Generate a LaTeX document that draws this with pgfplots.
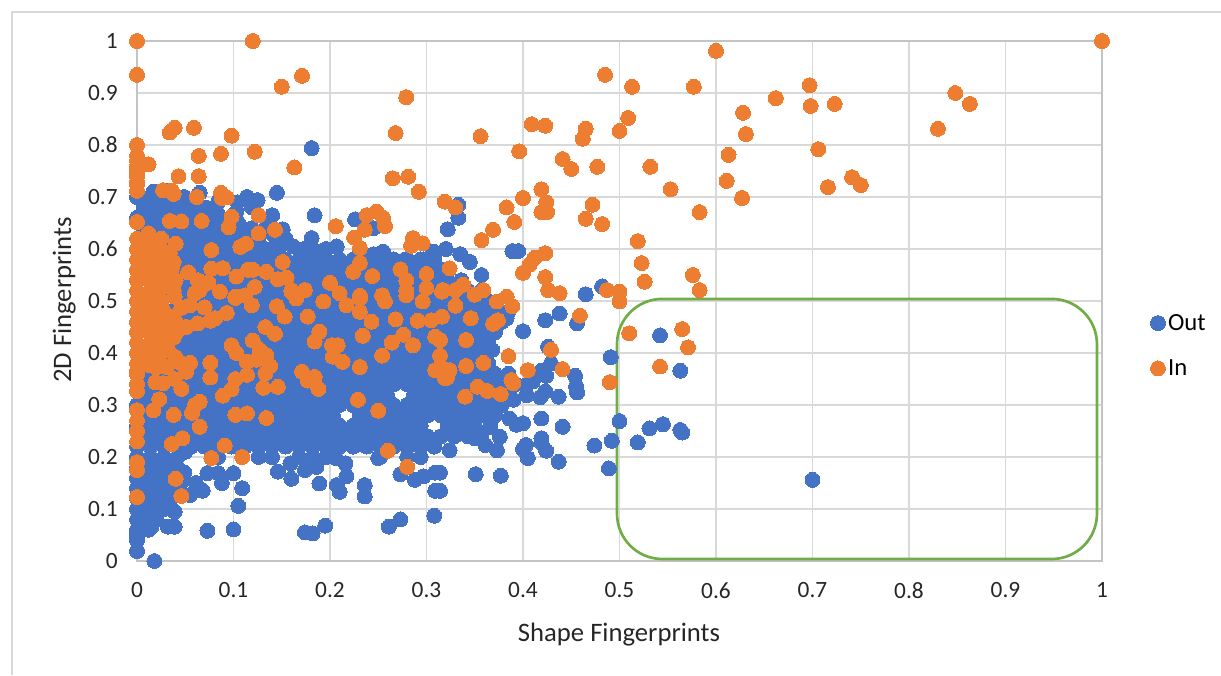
\documentclass[border=0pt]{standalone}
\usepackage{pgfplots}
\pgfplotsset{compat=1.18}
\usepackage{fontspec}
\setmainfont{Carlito}
\definecolor{bl}{HTML}{4472C4}
\definecolor{og}{HTML}{ED7D31}
\definecolor{gn}{HTML}{70AD47}
\definecolor{gr}{HTML}{D9D9D9}
\definecolor{ax}{HTML}{C4C4C4}
\begin{document}
\begin{tikzpicture}
\useasboundingbox (0,0) rectangle (915.75pt,506.25pt);
\draw[gr,line width=0.9pt] (9pt,0)--(9pt,497.25pt)--(915.75pt,497.25pt);
\begin{axis}[
 at={(102.75pt,85.5pt)},anchor=south west,scale only axis,width=723.75pt,height=390pt,
 xmin=0,xmax=1,ymin=0,ymax=1,clip=false,
 xtick={0,0.1,0.2,0.3,0.4,0.5,0.6,0.7,0.8,0.9,1},
 ytick={0,0.1,0.2,0.3,0.4,0.5,0.6,0.7,0.8,0.9,1},
 xticklabels={0,0.1,0.2,0.3,0.4,0.5,0.6,0.7,0.8,0.9,1},
 yticklabels={0,0.1,0.2,0.3,0.4,0.5,0.6,0.7,0.8,0.9,1},
 tick style={draw=none},major tick length=0pt,
 grid=major,grid style={gr,line width=1.3pt},axis line style={ax,line width=1.3pt},
 tick label style={font=\fontsize{17.5}{20}\selectfont,text=black!85},
 xticklabel style={yshift=-12.7pt},yticklabel style={xshift=-11pt},
 xlabel={Shape Fingerprints},ylabel={2D Fingerprints},
 label style={font=\fontsize{20}{23}\selectfont,text=black!85},
 xlabel style={at={(axis description cs:0.4995,-0.142)},anchor=center},
 ylabel style={at={(axis description cs:-0.0755,0.502)},anchor=center},
 legend style={at={(1.05,0.414)},anchor=west,draw=none,fill=none,font=\fontsize{18.5}{20}\selectfont,row sep=16.5pt,inner sep=0pt},
 legend cell align=left,
]
\addplot[only marks,mark=*,mark size=5.6pt,color=bl,mark options={fill=bl,draw=bl,line width=0pt}] coordinates {
(0,.04)(0,.05)(0,.06)(.012,.06)(0,.08)(.014,.08)(.02,.08)(0,.10)(.014,.10)(.028,.10)(0,.12)(.014,.12)(.028,.12)(0,.14)(.014,.14)(.028,.14)(0,.16)(.014,.16)(.028,.16)(0,.18)(.014,.18)(.028,.18)(.042,.18)
(.021,.62)(.035,.62)(.084,.62)(.112,.62)(.14,.63)(.077,.64)(.105,.65)(.084,.655)(.084,.69)(.049,.70)(.06,.685)(.091,.60)(.133,.60)(.147,.60)(.005,.60)(.014,.60)
(.014,.07)(.007,.09)(.021,.10)(.021,.12)(.035,.12)(.021,.14)(.007,.15)(.021,.16)(.035,.15)(.035,.17)(.049,.17)(.021,.18)(.035,.19)(.05,.21)(.007,.13)(.007,.11)
(0,.019)(.018,0)(.015,.066)(.032,.066)(.039,.066)(.039,.095)(.073,.058)(.10,.061)(.105,.106)(.109,.14)(.10,.169)(.174,.055)(.182,.053)(.195,.068)(.261,.066)(.273,.08)(.308,.087)(.309,.135)(.309,.17)(.297,.163)(.288,.156)(.273,.167)(.236,.146)(.236,.124)(.21,.133)(.207,.146)(.217,.163)(.216,.188)(.206,.198)(.189,.149)(.16,.158)(.146,.172)(.174,.175)(.186,.181)(.159,.188)(.088,.15)(.084,.169)(.073,.169)(.068,.135)(.061,.15)(.055,.127)(.25,.198)(.046,.152)(.035,.135)(.016,.125)(.314,.17)(.314,.135)
(.70,.156)(.181,.794)(.145,.708)(.114,.70)(.125,.694)(.104,.69)(.065,.708)(.032,.712)(.017,.71)(.184,.665)(.14,.665)(.226,.657)(.151,.638)(.105,.638)(.103,.672)(.072,.679)(.083,.67)(.322,.638)(.245,.64)(.181,.621)(.255,.595)(.245,.59)(.207,.605)(.196,.60)(.186,.595)(.162,.605)(.173,.6)(.131,.59)(.145,.612)(.09,.615)(.09,.59)(.307,.595)(.297,.58)(.278,.58)(.333,.685)(.333,.66)(.389,.596)(.395,.596)(.345,.575)(.357,.55)(.335,.59)(.32,.6)
(.465,.513)(.482,.528)(.438,.476)(.423,.463)(.456,.457)(.40,.442)(.542,.434)(.426,.412)(.491,.392)(.563,.366)(.429,.38)(.419,.366)(.424,.356)(.454,.356)(.455,.336)(.456,.324)(.437,.316)(.423,.326)(.418,.315)(.404,.319)(.403,.338)(.383,.31)(.5,.269)(.545,.263)(.531,.255)(.563,.252)(.565,.247)(.492,.231)(.519,.228)(.474,.222)(.441,.258)(.419,.274)(.386,.274)(.393,.262)(.40,.265)(.366,.258)(.419,.236)(.419,.228)(.403,.223)(.40,.215)(.405,.198)(.424,.212)(.437,.191)(.489,.178)(.351,.167)(.377,.164)(.376,.239)(.373,.213)(.361,.223)(.35,.236)(.343,.242)(.324,.213)(.368,.406)(.36,.425)(.383,.467)(.39,.31)(.41,.345)
(0,.20)(.014,.20)(.028,.20)(.042,.20)(.084,.20)(.126,.20)(.14,.20)(.168,.20)(.182,.20)(.196,.20)(.252,.20)(.28,.20)(.294,.20)
(0,.22)(.014,.22)(.028,.22)(.042,.22)(.056,.22)(.07,.22)(.084,.22)(.098,.22)(.112,.22)(.126,.22)(.14,.22)(.154,.22)(.168,.22)(.182,.22)(.196,.22)(.21,.22)(.224,.22)(.238,.22)(.252,.22)(.266,.22)(.28,.22)(.294,.22)(.308,.22)
(.007,.24)(.021,.24)(.035,.24)(.049,.24)(.063,.24)(.077,.24)(.091,.24)(.105,.24)(.119,.24)(.133,.24)(.147,.24)(.161,.24)(.175,.24)(.189,.24)(.203,.24)(.217,.24)(.231,.24)(.245,.24)(.259,.24)(.273,.24)(.287,.24)(.301,.24)(.315,.24)(.329,.24)(.343,.24)(.357,.24)
(0,.26)(.014,.26)(.028,.26)(.042,.26)(.056,.26)(.07,.26)(.084,.26)(.098,.26)(.112,.26)(.126,.26)(.14,.26)(.154,.26)(.168,.26)(.182,.26)(.196,.26)(.21,.26)(.224,.26)(.238,.26)(.252,.26)(.266,.26)(.28,.26)(.294,.26)(.322,.26)(.336,.26)(.35,.26)
(.007,.28)(.021,.28)(.035,.28)(.049,.28)(.063,.28)(.077,.28)(.091,.28)(.105,.28)(.119,.28)(.133,.28)(.147,.28)(.161,.28)(.175,.28)(.189,.28)(.203,.28)(.231,.28)(.245,.28)(.259,.28)(.273,.28)(.287,.28)(.301,.28)(.315,.28)(.329,.28)(.343,.28)(.357,.28)(.371,.28)
(0,.30)(.014,.30)(.028,.30)(.042,.30)(.056,.30)(.07,.30)(.084,.30)(.098,.30)(.112,.30)(.126,.30)(.14,.30)(.154,.30)(.168,.30)(.182,.30)(.196,.30)(.21,.30)(.224,.30)(.238,.30)(.252,.30)(.266,.30)(.28,.30)(.294,.30)(.308,.30)(.322,.30)(.336,.30)(.35,.30)(.364,.30)(.378,.30)
(.007,.32)(.021,.32)(.035,.32)(.049,.32)(.063,.32)(.077,.32)(.091,.32)(.105,.32)(.119,.32)(.133,.32)(.147,.32)(.161,.32)(.175,.32)(.189,.32)(.203,.32)(.217,.32)(.231,.32)(.245,.32)(.259,.32)(.287,.32)(.301,.32)(.315,.32)(.329,.32)(.343,.32)(.357,.32)(.371,.32)(.385,.32)
(0,.34)(.014,.34)(.028,.34)(.042,.34)(.056,.34)(.07,.34)(.084,.34)(.098,.34)(.112,.34)(.126,.34)(.14,.34)(.154,.34)(.168,.34)(.182,.34)(.196,.34)(.21,.34)(.224,.34)(.238,.34)(.252,.34)(.266,.34)(.28,.34)(.294,.34)(.308,.34)(.322,.34)(.336,.34)(.35,.34)(.364,.34)(.378,.34)(.392,.34)
(.007,.36)(.021,.36)(.035,.36)(.049,.36)(.063,.36)(.077,.36)(.091,.36)(.105,.36)(.119,.36)(.133,.36)(.147,.36)(.161,.36)(.175,.36)(.189,.36)(.203,.36)(.217,.36)(.231,.36)(.245,.36)(.259,.36)(.273,.36)(.287,.36)(.301,.36)(.315,.36)(.329,.36)(.343,.36)(.357,.36)(.371,.36)(.385,.36)
(.042,.38)(.056,.38)(.07,.38)(.084,.38)(.098,.38)(.112,.38)(.126,.38)(.14,.38)(.154,.38)(.168,.38)(.182,.38)(.196,.38)(.21,.38)(.224,.38)(.238,.38)(.252,.38)(.266,.38)(.28,.38)(.294,.38)(.308,.38)(.322,.38)(.336,.38)(.35,.38)(.364,.38)
(.035,.40)(.049,.40)(.063,.40)(.077,.40)(.091,.40)(.105,.40)(.119,.40)(.133,.40)(.147,.40)(.161,.40)(.175,.40)(.189,.40)(.203,.40)(.217,.40)(.231,.40)(.245,.40)(.259,.40)(.273,.40)(.287,.40)(.301,.40)(.315,.40)(.329,.40)(.343,.40)(.357,.40)
(.042,.42)(.056,.42)(.07,.42)(.084,.42)(.098,.42)(.112,.42)(.126,.42)(.14,.42)(.154,.42)(.168,.42)(.182,.42)(.196,.42)(.21,.42)(.224,.42)(.238,.42)(.252,.42)(.266,.42)(.28,.42)(.294,.42)(.308,.42)(.322,.42)(.336,.42)(.35,.42)(.364,.42)
(.035,.44)(.049,.44)(.063,.44)(.077,.44)(.091,.44)(.105,.44)(.119,.44)(.133,.44)(.147,.44)(.161,.44)(.175,.44)(.189,.44)(.203,.44)(.217,.44)(.231,.44)(.245,.44)(.259,.44)(.273,.44)(.287,.44)(.301,.44)(.315,.44)(.329,.44)(.343,.44)(.357,.44)(.371,.44)
(.042,.46)(.056,.46)(.07,.46)(.084,.46)(.098,.46)(.112,.46)(.126,.46)(.14,.46)(.154,.46)(.168,.46)(.182,.46)(.196,.46)(.21,.46)(.224,.46)(.238,.46)(.252,.46)(.266,.46)(.28,.46)(.294,.46)(.308,.46)(.322,.46)(.336,.46)(.35,.46)(.364,.46)(.378,.46)
(.035,.48)(.049,.48)(.063,.48)(.077,.48)(.091,.48)(.105,.48)(.119,.48)(.133,.48)(.147,.48)(.161,.48)(.175,.48)(.189,.48)(.203,.48)(.217,.48)(.231,.48)(.245,.48)(.259,.48)(.273,.48)(.287,.48)(.301,.48)(.315,.48)(.329,.48)(.343,.48)(.357,.48)(.371,.48)(.385,.48)
(.042,.50)(.056,.50)(.07,.50)(.084,.50)(.098,.50)(.112,.50)(.126,.50)(.14,.50)(.154,.50)(.168,.50)(.182,.50)(.196,.50)(.21,.50)(.224,.50)(.238,.50)(.252,.50)(.266,.50)(.28,.50)(.294,.50)(.308,.50)(.322,.50)(.336,.50)(.35,.50)(.364,.50)
(.035,.52)(.049,.52)(.063,.52)(.077,.52)(.091,.52)(.105,.52)(.119,.52)(.133,.52)(.147,.52)(.161,.52)(.175,.52)(.189,.52)(.203,.52)(.217,.52)(.231,.52)(.245,.52)(.259,.52)(.273,.52)(.287,.52)(.301,.52)(.315,.52)(.329,.52)(.343,.52)(.357,.52)
(.042,.54)(.056,.54)(.07,.54)(.084,.54)(.098,.54)(.112,.54)(.126,.54)(.14,.54)(.154,.54)(.168,.54)(.182,.54)(.196,.54)(.21,.54)(.224,.54)(.238,.54)(.252,.54)(.266,.54)(.28,.54)(.294,.54)(.308,.54)(.322,.54)(.336,.54)
(.035,.56)(.049,.56)(.063,.56)(.077,.56)(.091,.56)(.105,.56)(.119,.56)(.133,.56)(.147,.56)(.161,.56)(.175,.56)(.189,.56)(.203,.56)(.217,.56)(.231,.56)(.245,.56)(.259,.56)(.273,.56)(.287,.56)(.301,.56)(.315,.56)
(.042,.58)(.056,.58)(.07,.58)(.084,.58)(.098,.58)(.112,.58)(.126,.58)(.14,.58)(.154,.58)(.168,.58)(.182,.58)(.196,.58)(.21,.58)(.224,.58)(.238,.58)(.252,.58)(.266,.58)(.28,.58)(.294,.58)(.308,.58)
(.035,.60)(.049,.60)(.063,.60)(.077,.60)(.105,.60)(.119,.60)(.231,.60)
(.007,.62)(.042,.62)(.056,.62)(.07,.62)(.098,.62)(.126,.62)(.154,.62)
(.007,.64)(.021,.64)(.035,.64)(.049,.64)(.063,.64)(.091,.64)(.119,.64)(.133,.64)
(0,.66)(.014,.66)(.028,.66)(.042,.66)(.056,.66)(.07,.66)(.098,.66)
(.007,.68)(.021,.68)(.035,.68)(.049,.68)(.063,.68)(.119,.68)
(0,.70)(.014,.70)(.028,.70)(.042,.70)(.085,.695)
};
\addlegendentry{Out}
\addplot[only marks,mark=*,mark size=5.6pt,color=og,mark options={fill=og,draw=og,line width=0pt}] coordinates {
(0,1)(.12,1)(0,.935)(1,1)(.15,.912)(.171,.933)(.279,.892)(.268,.823)(.034,.824)(.039,.833)(.059,.833)(.098,.818)(0,.80)(0,.78)(0,.77)(0,.76)(0,.75)(0,.74)(0,.73)(.012,.763)(.064,.779)(.087,.783)(.122,.787)(.163,.757)(.043,.74)(.064,.74)(.027,.713)(.036,.712)(.038,.706)(.062,.70)(.087,.708)(.088,.698)(.093,.699)(0,.725)(0,.712)
(.265,.736)(.281,.739)(.292,.71)(.319,.691)(.33,.68)(.206,.644)(.126,.665)(.098,.662)(.095,.642)(.067,.654)(.034,.654)(.046,.653)(0,.652)(.126,.63)(.143,.637)
(.238,.665)(.248,.672)(.255,.66)(.257,.644)(.236,.637)(.225,.622)(.231,.602)(.231,.573)(.224,.556)(.244,.548)(.286,.621)(.284,.606)(.296,.611)(.273,.561)(.30,.552)(.279,.54)(.151,.575)(.077,.598)(.107,.604)(.113,.61)(.324,.563)
(.357,.617)(.369,.637)(.383,.68)(.40,.698)(.396,.788)(.356,.817)(.409,.84)(.423,.837)(.441,.773)(.45,.754)(.419,.715)(.424,.69)(.419,.671)(.425,.671)(.391,.652)(.465,.658)(.472,.685)(.482,.648)(.477,.758)(.462,.812)(.465,.831)(.485,.935)(.513,.912)(.509,.852)(.5,.827)(.532,.758)(.553,.715)(.577,.912)(.60,.981)(.583,.671)(.613,.781)(.611,.731)(.628,.862)(.631,.821)(.627,.698)(.662,.89)(.697,.915)(.698,.875)(.723,.879)(.706,.792)(.716,.719)(.741,.738)(.75,.723)(.83,.831)(.848,.90)(.863,.879)
(.519,.615)(.523,.573)(.526,.537)(.576,.55)(.583,.521)(.5,.518)(.5,.499)(.487,.521)(.438,.515)(.426,.521)(.423,.546)(.423,.592)(.412,.583)(.40,.554)(.407,.57)
(.459,.472)(.51,.438)(.565,.446)(.571,.411)(.542,.374)(.49,.344)(.429,.406)(.441,.369)(.405,.367)(.385,.394)(.388,.348)(.39,.342)(.377,.321)(.363,.327)(.353,.335)(.34,.316)(.341,.375)(.359,.381)(.341,.425)(.346,.467)(.33,.491)(.373,.499)(.383,.508)(.389,.49)(.369,.456)(.374,.463)
(.317,.521)(.33,.521)(.338,.531)(.35,.512)(.359,.521)(.316,.47)(.314,.425)(.316,.371)(.321,.352)
(.091,.222)(.077,.198)(.109,.20)(.065,.258)(.047,.236)(.036,.225)(.04,.158)(.046,.125)(0,.123)(0,.19)(0,.175)(0,.23)(0,.25)(0,.27)(0,.29)(0,.327)(.038,.281)(.017,.29)(.023,.311)(.057,.285)(.065,.306)(.06,.30)(.046,.331)(.039,.35)(.027,.342)(.019,.344)(.031,.373)(.012,.377)(0,.366)(.051,.364)(.046,.38)(.055,.381)(.076,.381)(.076,.353)
(.102,.281)(.114,.284)(.134,.275)(.089,.318)(.098,.33)(.102,.35)(.114,.358)(.131,.333)(.146,.335)(.133,.361)(.138,.375)(.134,.396)(.124,.387)(.114,.383)(.103,.40)(.098,.415)(.12,.424)(.127,.406)
(.171,.364)(.184,.354)(.177,.347)(.188,.331)(.229,.31)(.25,.289)(.26,.212)(.28,.181)(.231,.373)(.254,.395)(.213,.383)(.203,.393)(.202,.415)(.208,.415)(.184,.422)(.189,.441)(.234,.433)(.243,.46)(.231,.479)(.193,.499)(.217,.492)(.177,.47)(.153,.47)(.145,.49)(.143,.437)(.133,.45)(.093,.477)(.119,.492)(.102,.506)
(.076,.462)(.063,.457)(.051,.45)(.041,.441)(.032,.45)(.037,.47)(.046,.487)(.032,.408)
(.268,.465)(.291,.462)(.305,.463)(.309,.431)(.276,.435)(.264,.42)(.286,.415)(.314,.395)(.309,.367)(.319,.352)(.324,.367)(.296,.499)(.316,.518)(.279,.511)(.254,.511)(.257,.499)(.231,.505)(.165,.505)(.16,.518)
(.16,.521)(.174,.521)(.20,.535)(.21,.515)(.231,.51)(.279,.52)(.30,.525)
(.155,.545)(.146,.542)(.134,.556)(.12,.56)(.115,.56)(.103,.547)(.089,.563)(.077,.562)(.063,.54)(.053,.555)(.074,.535)(.06,.515)(.086,.518)(.102,.508)(.112,.511)(.122,.527)(.039,.508)
(.034,.592)(.036,.563)(.029,.535)(.065,.521)(.027,.483)(.055,.492)(.07,.488)(.081,.467)
(0,.34)(0,.36)(0,.38)(0,.40)(0,.42)(0,.44)(0,.46)(0,.48)(0,.50)(0,.52)(0,.54)(0,.56)(0,.58)(0,.60)(0,.62)
(.012,.39)(.012,.415)(.012,.44)(.012,.465)(.012,.49)(.012,.515)(.012,.54)(.012,.565)(.012,.59)(.012,.615)(.012,.63)
(.025,.40)(.025,.425)(.025,.45)(.025,.475)(.025,.50)(.025,.525)(.025,.55)(.025,.575)(.025,.60)(.025,.62)
(.038,.43)(.04,.46)(.038,.52)(.04,.54)(.038,.575)(.04,.61)(.02,.372)(.04,.392)
};
\addlegendentry{In}
\draw[gn,line width=2pt,rounded corners=34pt] (axis cs:.4974,.0038) rectangle (axis cs:.9948,.504);
\end{axis}
\end{tikzpicture}
\end{document}
